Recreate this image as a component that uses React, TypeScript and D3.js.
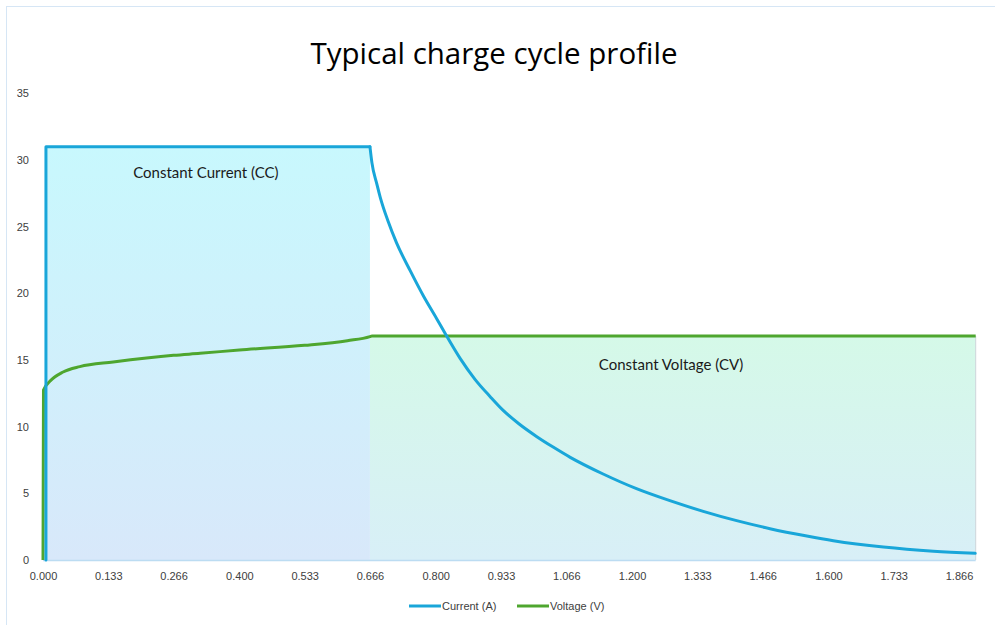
import React, { useEffect, useRef } from 'react';
import * as d3 from 'd3';

// Current (A): time (h) and amps
const currentTime = [0.006, 0.006, 0.666, 0.67, 0.68, 0.687, 0.703, 0.72, 0.748, 0.775, 0.802, 0.819, 0.85, 0.88, 0.911, 0.938, 0.97, 1.006, 1.04, 1.074, 1.141, 1.209, 1.277, 1.345, 1.413, 1.481, 1.556, 1.61, 1.712, 1.814, 1.899];
const currentAmps = [0, 31, 31, 29.8, 28.2, 27.2, 25.4, 23.8, 21.7, 19.8, 18.1, 17.0, 15.1, 13.55, 12.25, 11.2, 10.2, 9.25, 8.45, 7.7, 6.45, 5.35, 4.45, 3.65, 2.95, 2.35, 1.8, 1.45, 0.97, 0.66, 0.5];

// Voltage (V)
const voltageTime = [0, 0.001, 0.014, 0.041, 0.075, 0.143, 0.211, 0.266, 0.32, 0.4, 0.533, 0.62, 0.666, 0.67, 1.9];
const voltageVolts = [0, 12.75, 13.4, 14.1, 14.5, 14.85, 15.15, 15.35, 15.5, 15.75, 16.1, 16.45, 16.75, 16.8, 16.8];

const xTicks = [0, 0.133, 0.266, 0.4, 0.533, 0.666, 0.8, 0.933, 1.066, 1.2, 1.333, 1.466, 1.6, 1.733, 1.866];
const yTicks = [0, 5, 10, 15, 20, 25, 30, 35];

// phase regions: [start, end, level]
const ccPhase = [0.006, 0.666, 31];
const cvPhase = [0.666, 1.9, 16.8];

const seriesNames = ['Current (A)', 'Voltage (V)'];
const seriesColors = ['#19a6d9', '#4ea62f'];

export default function App() {
  const svgRef = useRef<SVGSVGElement>(null);

  useEffect(() => {
    if (!svgRef.current) return;
    const svg = d3.select(svgRef.current);
    svg.selectAll('*').remove();

    const x = d3.scaleLinear().domain([0, 1.9]).range([43, 975.7]);
    const y = d3.scaleLinear().domain([0, 35]).range([560, 93.3]);

    // frame
    svg.append('rect')
      .attr('x', 6.5).attr('y', 6.5)
      .attr('width', 1000).attr('height', 700)
      .attr('fill', '#fff')
      .attr('stroke', '#d6e6f5');

    const defs = svg.append('defs');
    const g1 = defs.append('linearGradient').attr('id', 'ccFill')
      .attr('x1', 0).attr('y1', 0).attr('x2', 0).attr('y2', 1);
    g1.append('stop').attr('offset', '0%').attr('stop-color', '#c8f8fd');
    g1.append('stop').attr('offset', '100%').attr('stop-color', '#d8e8fa');
    const g2 = defs.append('linearGradient').attr('id', 'cvFill')
      .attr('x1', 0).attr('y1', 0).attr('x2', 0).attr('y2', 1);
    g2.append('stop').attr('offset', '0%').attr('stop-color', '#d5f9e8');
    g2.append('stop').attr('offset', '100%').attr('stop-color', '#d8eff7');

    svg.append('rect')
      .attr('x', x(ccPhase[0])).attr('y', y(ccPhase[2]))
      .attr('width', x(ccPhase[1]) - x(ccPhase[0]))
      .attr('height', y(0) - y(ccPhase[2]))
      .attr('fill', 'url(#ccFill)');

    svg.append('rect')
      .attr('x', x(cvPhase[0])).attr('y', y(cvPhase[2]))
      .attr('width', x(cvPhase[1]) - x(cvPhase[0]))
      .attr('height', y(0) - y(cvPhase[2]))
      .attr('fill', 'url(#cvFill)');

    svg.append('line')
      .attr('x1', x(cvPhase[1])).attr('x2', x(cvPhase[1]))
      .attr('y1', y(cvPhase[2])).attr('y2', y(0))
      .attr('stroke', '#cdd6da').attr('stroke-width', 1);

    // baseline
    svg.append('line')
      .attr('x1', x(0)).attr('x2', x(1.9))
      .attr('y1', y(0) + 0.5).attr('y2', y(0) + 0.5)
      .attr('stroke', '#bcdcf2').attr('stroke-width', 1.5);

    // annotations
    svg.append('text')
      .attr('x', (x(ccPhase[0]) + x(ccPhase[1])) / 2 - 2).attr('y', 178)
      .attr('text-anchor', 'middle')
      .style('font-family', 'Lato, sans-serif').style('font-size', '15px')
      .attr('fill', '#1a1a1a')
      .text('Constant Current (CC)');

    svg.append('text')
      .attr('x', 671).attr('y', 370)
      .attr('text-anchor', 'middle')
      .style('font-family', 'Lato, sans-serif').style('font-size', '15px')
      .attr('fill', '#1a1a1a')
      .text('Constant Voltage (CV)');

    const straight = d3.line<number[]>()
      .x(d => x(d[0]))
      .y(d => y(d[1]));
    const smooth = d3.line<number[]>()
      .x(d => x(d[0]))
      .y(d => y(d[1]))
      .curve(d3.curveMonotoneX);

    const voltagePts = voltageTime.map((t, i) => [t, voltageVolts[i]]);
    const currentPts = currentTime.map((t, i) => [t, currentAmps[i]]);
    const currentStep = currentPts.slice(0, 3);
    const currentDecay = currentPts.slice(2);

    svg.append('path')
      .attr('d', smooth(voltagePts))
      .attr('fill', 'none')
      .attr('stroke', seriesColors[1])
      .attr('stroke-width', 3)
      .attr('stroke-linejoin', 'round');

    [straight(currentStep), smooth(currentDecay)].forEach(d => {
      svg.append('path')
        .attr('d', d)
        .attr('fill', 'none')
        .attr('stroke', seriesColors[0])
        .attr('stroke-width', 3)
        .attr('stroke-linejoin', 'round')
        .attr('stroke-linecap', 'round');
    });

    // axes (labels only)
    const tickFont = '"Liberation Sans", Arial, sans-serif';
    const xAxis = svg.append('g')
      .attr('transform', `translate(0,${y(0)})`)
      .call(d3.axisBottom(x).tickValues(xTicks).tickFormat(d3.format('.3f')).tickSize(0).tickPadding(12));
    xAxis.select('.domain').remove();
    xAxis.selectAll('text')
      .style('font-family', tickFont).style('font-size', '11px').attr('fill', '#404040');

    const yAxis = svg.append('g')
      .attr('transform', `translate(29,0)`)
      .call(d3.axisLeft(y).tickValues(yTicks).tickSize(0).tickPadding(0));
    yAxis.select('.domain').remove();
    yAxis.selectAll('text')
      .style('font-family', tickFont).style('font-size', '11px').attr('fill', '#404040');

    // title
    svg.append('text')
      .attr('x', 494).attr('y', 64)
      .attr('text-anchor', 'middle')
      .style('font-family', '"Open Sans", sans-serif').style('font-size', '29.5px')
      .attr('fill', '#000')
      .text('Typical charge cycle profile');

    // legend
    const legendX = [409, 517];
    seriesNames.forEach((name, i) => {
      const item = svg.append('g').attr('transform', `translate(${legendX[i]},606)`);
      item.append('line')
        .attr('x1', 0).attr('x2', 32).attr('y1', 0).attr('y2', 0)
        .attr('stroke', seriesColors[i]).attr('stroke-width', 3);
      item.append('text')
        .attr('x', 33).attr('y', 4)
        .style('font-family', tickFont).style('font-size', '11px')
        .attr('fill', '#404040')
        .text(name);
    });
  }, []);

  return (
    <svg ref={svgRef} width={995} height={625}
      style={{ position: 'absolute', left: 0, top: 0, background: '#fff' }} />
  );
}
